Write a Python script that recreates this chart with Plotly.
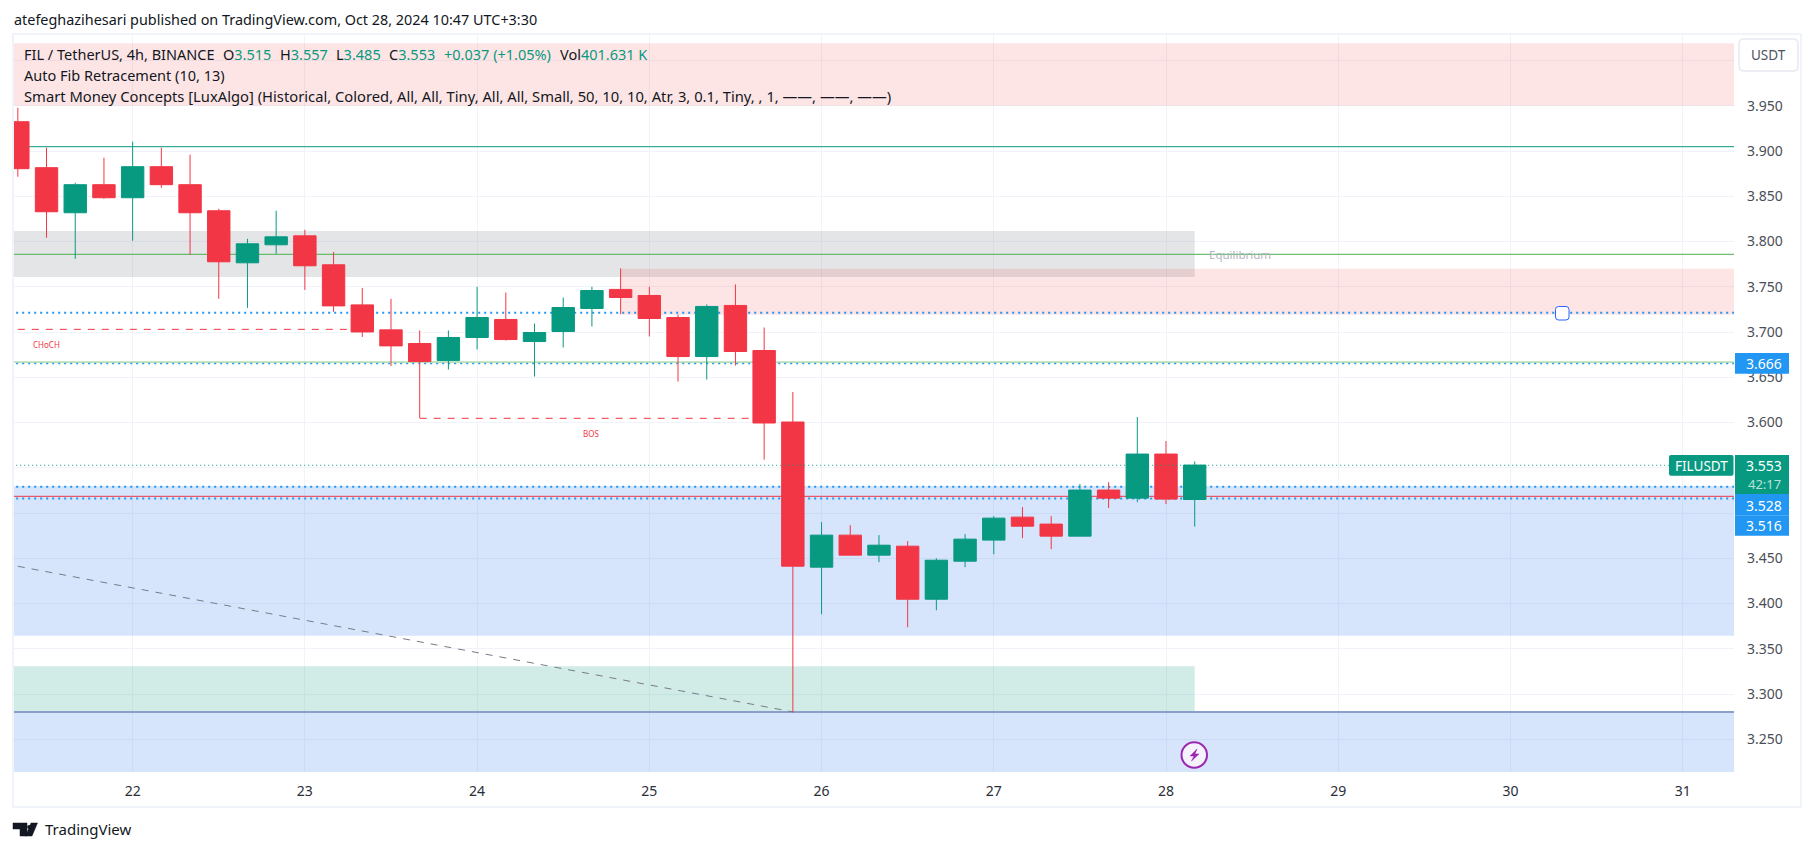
import pandas as pd
import plotly.graph_objects as go

# ---------- data ----------
opens = [3.9324,3.8816,3.8318,3.8628,3.8484,3.8827,3.8628,3.8340,3.7765,3.7964,3.8063,3.7743,3.7300,3.7024,
         3.6873,3.6685,3.6940,3.7139,3.6895,3.7006,3.7260,3.7471,3.7404,3.7161,3.6729,3.7294,3.6796,3.6006,
         3.4402,3.4756,3.4535,3.4634,3.4048,3.4468,3.4701,3.4955,3.4878,3.4745,3.5254,3.5165,3.5652,3.515]
highs = [3.9479,3.9037,3.8650,3.8926,3.9103,3.9037,3.8959,3.8362,3.8030,3.8340,3.8130,3.7886,3.7488,3.7367,
         3.7017,3.7017,3.7500,3.7437,3.7094,3.7382,3.7500,3.7703,3.7500,3.7194,3.7305,3.7526,3.7050,3.6338,
         3.4900,3.4866,3.4756,3.4690,3.4501,3.4767,3.4966,3.5066,3.4966,3.5320,3.5342,3.6061,3.5796,3.557]
lows  = [3.8716,3.8041,3.7809,3.8473,3.8008,3.8594,3.7853,3.7367,3.7267,3.7864,3.7466,3.7223,3.6946,3.6625,
         3.6051,3.6586,3.6807,3.6906,3.6508,3.6829,3.7061,3.7198,3.6951,3.6453,3.6475,3.6630,3.5590,3.2797,
         3.3882,3.4535,3.4457,3.3738,3.3926,3.4402,3.4546,3.4723,3.4601,3.4745,3.5055,3.5121,3.5099,3.485]
closes= [3.8805,3.8329,3.8628,3.8484,3.8827,3.8628,3.8318,3.7776,3.7975,3.8052,3.7732,3.7289,3.7001,3.6847,
         3.6674,3.6940,3.7161,3.6917,3.6995,3.7271,3.7459,3.7382,3.7150,3.6729,3.7283,3.6785,3.5995,3.4413,
         3.4756,3.4535,3.4645,3.4048,3.4479,3.4712,3.4944,3.4855,3.4745,3.5254,3.5165,3.5652,3.5154,3.553]
times = pd.date_range("2024-10-21 08:00", periods=len(opens), freq="4h")

day_ticks  = ["2024-10-%02d" % d for d in range(22, 32)]
day_labels = [str(d) for d in range(22, 32)]
price_ticks = [3.25,3.30,3.35,3.40,3.45,3.50,3.55,3.60,3.65,3.70,3.75,3.80,3.85,3.90,3.95,4.00]
price_labels = ["3.250","3.300","3.350","3.400","3.450","","","3.600","3.650","3.700","3.750","3.800","3.850","3.900","3.950",""]

supply_top = (3.9501, 4.0191)
premium_zone = (3.7609, 3.8117)
order_block = (3.7192, 3.7700)
fib_upper_zone = (3.3645, 3.5299)
discount_zone = (3.2805, 3.3307)
fib_lower_zone = (3.1500, 3.2805)
level_teal = 3.9048
level_green_1 = 3.7859
level_green_2 = 3.6668
level_red = 3.5185
level_dot_1 = 3.7214
level_dot_2 = 3.6652
level_dot_3 = 3.5291
level_dot_4 = 3.5162
level_last = 3.5528
level_fib = 3.2803
choch_level = 3.7030
bos_level = 3.6047
trend_start = 3.4412

# ---------- geometry ----------
L, R, T, B = 14, 1734, 35, 772
W, H = 1814, 851
def px(x): return (x - L) / (R - L)
def py(y): return (B - y) / (B - T)

BLUE, TEAL, RED, GRID = "#2196f3", "#089981", "#f23645", "#f0f3fa"
FONT = "Noto Sans"
far_left, far_right = "2024-10-20", "2024-11-02"
t_end = times[41]

shapes = []
def band(lo_hi, color, x0=far_left, x1=far_right):
    shapes.append(dict(type="rect", xref="x", yref="y", x0=x0, x1=x1, y0=lo_hi[0], y1=lo_hi[1],
                       fillcolor=color, line_width=0, layer="between"))
def level(v, color, width=1, dash="solid", x0=far_left, x1=far_right, y1=None, layer="between"):
    shapes.append(dict(type="line", xref="x", yref="y", x0=x0, x1=x1, y0=v, y1=v if y1 is None else y1,
                       line=dict(color=color, width=width, dash=dash), layer=layer))
def pbox(x0, y0, x1, y1, fill, line=None, lw=0, r=0):
    if r:
        a, b, c, d = px(x0), px(x1), py(y0), py(y1)
        rx, ry = r / (R - L), r / (B - T)
        path = (f"M{a+rx},{c} L{b-rx},{c} Q{b},{c} {b},{c-ry} L{b},{d+ry} Q{b},{d} {b-rx},{d} "
                f"L{a+rx},{d} Q{a},{d} {a},{d+ry} L{a},{c-ry} Q{a},{c} {a+rx},{c} Z")
        shapes.append(dict(type="path", xref="paper", yref="paper", path=path, fillcolor=fill,
                           line=dict(color=line or fill, width=lw), layer="above"))
    else:
        shapes.append(dict(type="rect", xref="paper", yref="paper", x0=px(x0), x1=px(x1), y0=py(y1), y1=py(y0),
                           fillcolor=fill, line=dict(color=line or fill, width=lw), layer="above"))

PINK = "rgba(242,60,60,0.135)"
SOFTBLUE = "rgba(36,115,240,0.19)"
band(supply_top, PINK)
band(premium_zone, "rgba(120,123,134,0.2)", x1=t_end)
band(order_block, PINK, x0=times[21])
band(fib_upper_zone, SOFTBLUE)
band(discount_zone, "rgba(8,153,129,0.19)", x1=t_end)
band(fib_lower_zone, SOFTBLUE)

level(level_teal, TEAL)
level(level_green_1, "#4caf50")
level(level_dot_2, BLUE, width=1.5, dash="2px,4px")
level(level_green_2, "#81c784")
level(level_red, RED)
level(level_fib, "#8c9fca", width=2)
for v in (level_dot_1, level_dot_3, level_dot_4):
    level(v, BLUE, width=2, dash="2px,4px")
level(choch_level, RED, dash="7px,7px", x0=times[0], x1=times[12])
level(bos_level, RED, dash="7px,7px", x0=times[14], x1=times[26])
level(trend_start, "#787b86", dash="7px,7px", x0=times[0], x1=times[27], y1=level_fib)
level(level_last, TEAL, dash="1px,3px", layer="above")

# frame
shapes.append(dict(type="rect", xref="paper", yref="paper", x0=px(13), x1=px(1801), y0=py(807), y1=py(34),
                   line=dict(color=GRID, width=2), fillcolor="rgba(0,0,0,0)", layer="above"))
# axis boxes
pbox(1739, 39, 1798, 71, "#ffffff", "#e6e9f0", 1.5, r=5)
pbox(1735, 353, 1789, 373.7, BLUE)
pbox(1669, 455, 1733.5, 475.7, TEAL, r=2)
pbox(1735, 455, 1789, 494, TEAL)
pbox(1735, 494, 1789, 515.7, BLUE)
pbox(1735, 515.7, 1789, 535.7, BLUE)
# line handle
pbox(1555.5, 306.5, 1569, 320, "#ffffff", "#2962ff", 1, r=3)
# lightning icon
shapes.append(dict(type="circle", xref="paper", yref="paper", x0=px(1181.5), x1=px(1207), y0=py(767.7), y1=py(742.3),
                   fillcolor="#f4f2fd", line=dict(color="#9c27b0", width=2), layer="above"))
def poly(pts, color):
    d = "M" + " L".join(f"{px(a)},{py(b)}" for a, b in pts) + " Z"
    shapes.append(dict(type="path", xref="paper", yref="paper", path=d, fillcolor=color,
                       line=dict(color=color, width=0.5), layer="above"))
poly([(1197, 749), (1190, 756), (1194, 756), (1191.5, 761), (1199, 754), (1195, 754)], "#9c27b0")
# TradingView mark
poly([(13, 823), (27, 823), (27, 836), (20, 836), (20, 829), (13, 829)], "#131722")
shapes.append(dict(type="circle", xref="paper", yref="paper", x0=px(27.2), x1=px(31), y0=py(829), y1=py(825),
                   fillcolor="#131722", line_width=0, layer="above"))
poly([(31, 823), (37.5, 823), (32, 836), (25.5, 836)], "#131722")

anns = []
def text(x, y, s, size=13.5, color="#131722", anchor="left"):
    anns.append(dict(x=px(x), y=py(y), xref="paper", yref="paper", text=s, showarrow=False, xanchor=anchor,
                     yanchor="middle", borderpad=0, font=dict(family=FONT, size=size, color=color)))

def g(s): return f'<span style="color:{TEAL}">{s}</span>'
text(13, 20, "atefeghazihesari published on TradingView.com, Oct 28, 2024 10:47 UTC+3:30", 14.4)
text(23, 53.5, "FIL / TetherUS, 4h, BINANCE", 14.5)
text(222, 53.5, "O" + g("3.515"), 14.5)
text(279, 53.5, "H" + g("3.557"), 14.5)
text(335, 53.5, "L" + g("3.485"), 14.5)
text(388, 53.5, "C" + g("3.553"), 14.5)
text(443, 53.5, g("+0.037 (+1.05%)"), 14.5)
text(559, 53.5, "Vol" + g("401.631 K"), 14.5)
text(23, 75, "Auto Fib Retracement (10, 13)", 14.5)
text(23, 96, "Smart Money Concepts [LuxAlgo] (Historical, Colored, All, All, Tiny, All, All, Small, 50, 10, 10, Atr, 3, 0.1, Tiny, , 1, ——, ——, ——)", 14.75)
text(46, 344, "CHoCH", 8, RED, "center")
text(591, 433, "BOS", 8, RED, "center")
text(1208, 255, "Equilibrium", 11.5, "#b2b5be")
text(1768.5, 55, "USDT", 13.5, "#4c525e", "center")
text(1764, 363.5, "3.666", 14, "#ffffff", "center")
text(1701, 465.5, "FILUSDT", 13.5, "#ffffff", "center")
text(1764, 465, "3.553", 14, "#ffffff", "center")
text(1764, 484, "42:17", 13, "#b9e3da", "center")
text(1764, 505, "3.528", 14, "#ffffff", "center")
text(1764, 525.7, "3.516", 14, "#ffffff", "center")
text(44, 829, "TradingView", 15, "#131722")

fig = go.Figure(go.Candlestick(
    x=times, open=opens, high=highs, low=lows, close=closes,
    increasing=dict(line=dict(color=TEAL, width=1), fillcolor=TEAL),
    decreasing=dict(line=dict(color=RED, width=1), fillcolor=RED),
    whiskerwidth=0, showlegend=False, hoverinfo="skip"))

fig.update_layout(
    width=W, height=H, autosize=False, paper_bgcolor="#ffffff", plot_bgcolor="#ffffff",
    margin=dict(l=L, r=W - R, t=T, b=H - B, pad=0), boxgap=0.22, boxgroupgap=0, hovermode=False,
    shapes=shapes, annotations=anns, showlegend=False, font=dict(family=FONT, color="#131722"),
    xaxis=dict(type="date", range=["2024-10-21 07:28", "2024-10-31 07:09"], tickmode="array",
               tickvals=day_ticks, ticktext=day_labels, showgrid=True, gridcolor=GRID, gridwidth=1,
               zeroline=False, showline=False, ticks="", ticklabelstandoff=9, rangeslider=dict(visible=False),
               tickfont=dict(family=FONT, size=14, color="#2a2e39"), tickangle=0),
    yaxis=dict(side="right", range=[3.2139, 4.0282], tickmode="array", tickvals=price_ticks, ticktext=price_labels,
               showgrid=True, gridcolor=GRID, gridwidth=1, zeroline=False, showline=False, ticks="",
               ticklabelstandoff=12, tickfont=dict(family=FONT, size=14, color="#4a4e58")),
)

fig.write_html("out.html", post_script="document.body.style.margin='0';document.body.style.overflow='hidden';",
               config=dict(displayModeBar=False))
